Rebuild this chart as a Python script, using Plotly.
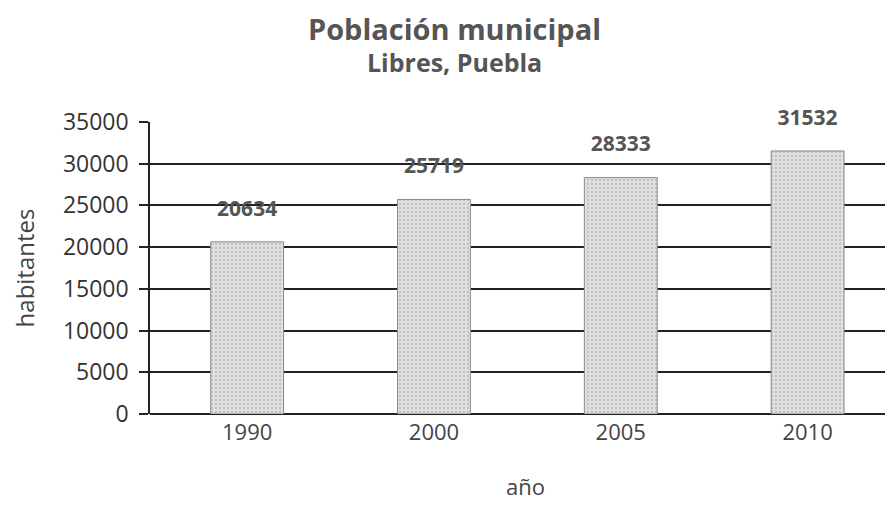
import plotly.graph_objects as go

# Datos
anios = ["1990", "2000", "2005", "2010"]
habitantes = [20634, 25719, 28333, 31532]
ticks_y = [0, 5000, 10000, 15000, 20000, 25000, 30000, 35000]

FUENTE = "Open Sans"

fig = go.Figure()

fig.add_trace(go.Bar(
    x=anios,
    y=habitantes,
    width=0.39,
    marker=dict(
        color="#dcdcdc",
        pattern=dict(shape=".", fgcolor="#9a9a9a", bgcolor="#e0e0e0", size=4, solidity=0.25),
        line=dict(color="#8a8a8a", width=1),
    ),
    showlegend=False,
    hoverinfo="x+y",
))

# Etiquetas de valor sobre cada barra (marcador invisible para separarlas)
fig.add_trace(go.Scatter(
    x=anios,
    y=habitantes,
    mode="markers+text",
    text=[f"<b>{h}</b>" for h in habitantes],
    textposition="top center",
    textfont=dict(family=FUENTE, size=21, color="#555555"),
    marker=dict(size=32, opacity=0),
    cliponaxis=False,
    showlegend=False,
    hoverinfo="skip",
))

# Subtítulo
fig.add_annotation(
    x=0.406, y=1.2055, xref="paper", yref="paper",
    text="<b>Libres, Puebla</b>", showarrow=False,
    xanchor="center", yanchor="middle",
    font=dict(family=FUENTE, size=25, color="#555555"),
)

fig.update_layout(
    width=893, height=519,
    paper_bgcolor="white", plot_bgcolor="white",
    margin=dict(l=142, r=0, t=114, b=113),
    title=dict(
        text="<b>Población municipal</b>",
        x=0.5, xanchor="center", y=0.9576, yanchor="middle",
        font=dict(family=FUENTE, size=29, color="#555555"),
    ),
    font=dict(family=FUENTE, color="#333333"),
)

fig.update_xaxes(
    type="category",
    range=[-0.52, 3.5],
    showgrid=False,
    showline=False,
    ticks="",
    tickfont=dict(family=FUENTE, size=22, color="#444444"),
    ticklabelstandoff=3,
    title=dict(text="año", font=dict(family=FUENTE, size=22, color="#444444"), standoff=34),
)

fig.update_yaxes(
    range=[0, 35000],
    tickvals=ticks_y,
    tickformat="d",
    showgrid=True, gridcolor="#222222", gridwidth=1.5,
    showline=True, linecolor="#222222", linewidth=1.5,
    zeroline=True, zerolinecolor="#222222", zerolinewidth=2,
    ticks="outside", ticklen=9, tickcolor="#222222", tickwidth=1.5,
    tickfont=dict(family=FUENTE, size=23, color="#333333"),
    ticklabelstandoff=6,
    title=dict(text="habitantes", font=dict(family=FUENTE, size=24, color="#444444"), standoff=24),
)

fig.write_html("out.html")
